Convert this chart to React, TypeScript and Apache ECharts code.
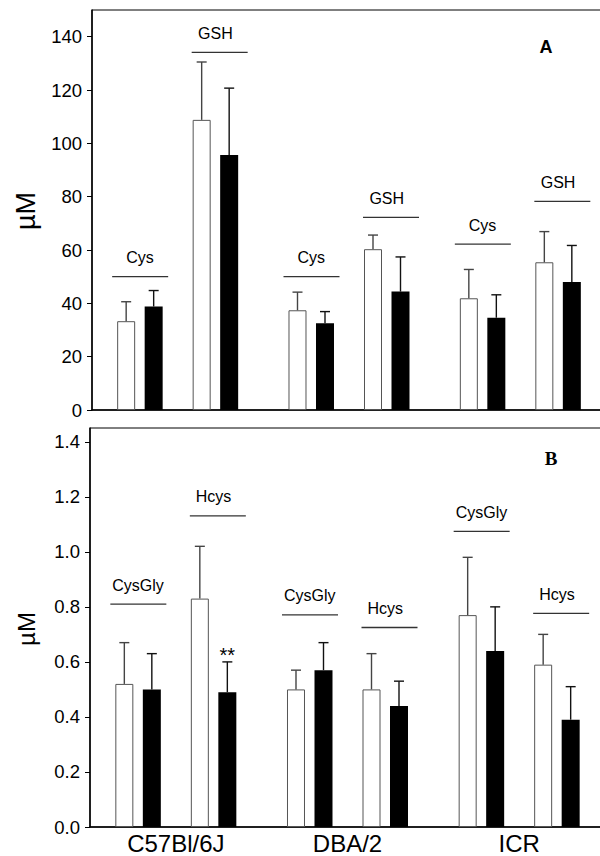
import React, { useEffect, useRef } from 'react';
import * as echarts from 'echarts';

// ---------- data ----------
const strains = ['C57Bl/6J', 'DBA/2', 'ICR'];

// Panel A (µM)
const topTicks = [0, 20, 40, 60, 80, 100, 120, 140];
const cysOpen = [33.3, 37.4, 41.9];
const cysOpenSD = [7.3, 6.8, 10.8];
const cysFilled = [38.8, 32.5, 34.6];
const cysFilledSD = [6.0, 4.4, 8.6];
const gshOpen = [108.8, 60.3, 55.4];
const gshOpenSD = [21.7, 5.3, 11.5];
const gshFilled = [95.6, 44.4, 48.0];
const gshFilledSD = [25.1, 13.0, 13.7];
const cysLineLevel = [50, 50, 62.2];
const gshLineLevel = [134.1, 72.2, 78.2];

// Panel B (µM)
const bottomTicks = [0, 0.2, 0.4, 0.6, 0.8, 1.0, 1.2, 1.4];
const cysGlyOpen = [0.52, 0.5, 0.77];
const cysGlyOpenSD = [0.15, 0.07, 0.21];
const cysGlyFilled = [0.5, 0.57, 0.64];
const cysGlyFilledSD = [0.13, 0.1, 0.16];
const hcysOpen = [0.83, 0.5, 0.59];
const hcysOpenSD = [0.19, 0.13, 0.11];
const hcysFilled = [0.49, 0.44, 0.39];
const hcysFilledSD = [0.11, 0.09, 0.12];
const hcysFilledSig = ['**', '', ''];
const cysGlyLineLevel = [0.81, 0.771, 1.074];
const hcysLineLevel = [1.131, 0.725, 0.776];

// ---------- layout ----------
const FONT = 'Liberation Sans';
const SERIF = 'Liberation Serif';
const BAR_W = 18;
const PAIR_GAP = 9.5;
const SPACER_W = 13.42;
const GAP_P = PAIR_GAP / BAR_W;
const WIDTHS = [BAR_W, BAR_W, SPACER_W, BAR_W, BAR_W];
const CENTERS: number[] = (() => {
  let sum = 0;
  WIDTHS.forEach((w) => (sum += w * (1 + GAP_P)));
  sum -= WIDTHS[WIDTHS.length - 1] * GAP_P;
  let off = -sum / 2;
  const c: number[] = [];
  WIDTHS.forEach((w) => {
    c.push(off + w / 2);
    off += w * (1 + GAP_P);
  });
  return [c[0], c[1], c[3], c[4]];
})();
const LINE_CENTER = [-37.5, 42];
const LINE_HALF = 28;
const CAP_HALF = 5;

function barSeries(data: number[], filled: boolean, axis: number) {
  return {
    type: 'bar',
    xAxisIndex: axis,
    yAxisIndex: axis,
    data,
    barWidth: BAR_W,
    barGap: GAP_P * 100 + '%',
    itemStyle: filled
      ? { color: '#000', borderColor: '#000', borderWidth: 0 }
      : { color: '#fff', borderColor: '#555', borderWidth: 1 },
    silent: true,
  };
}

function spacerSeries(axis: number) {
  return {
    type: 'bar',
    xAxisIndex: axis,
    yAxisIndex: axis,
    data: strains.map(() => 0),
    barWidth: SPACER_W,
    barGap: GAP_P * 100 + '%',
    itemStyle: { color: 'rgba(0,0,0,0)' },
    silent: true,
  };
}

function errorSeries(
  groups: { mean: number[]; sd: number[]; sig?: string[] }[],
  axis: number
) {
  const data: number[][] = [];
  const sigs: string[] = [];
  groups.forEach((g, slot) => {
    g.mean.forEach((m, i) => {
      data.push([i, m, g.sd[i], slot]);
      sigs.push(g.sig ? g.sig[i] : '');
    });
  });
  return {
    type: 'custom',
    xAxisIndex: axis,
    yAxisIndex: axis,
    data,
    silent: true,
    z: 5,
    renderItem: (params: any, api: any) => {
      const i = api.value(0);
      const m = api.value(1);
      const sd = api.value(2);
      const slot = api.value(3);
      const cx = api.coord([i, 0])[0] + CENTERS[slot];
      const yM = api.coord([i, m])[1];
      const yT = api.coord([i, m + sd])[1];
      const stroke = slot % 2 === 0 ? '#444' : '#111';
      const children: any[] = [
        { type: 'line', shape: { x1: cx, y1: yM, x2: cx, y2: yT }, style: { stroke, lineWidth: 1.4 } },
        {
          type: 'line',
          shape: { x1: cx - CAP_HALF, y1: yT, x2: cx + CAP_HALF, y2: yT },
          style: { stroke, lineWidth: 1.4 },
        },
      ];
      const s = sigs[params.dataIndex];
      if (s) {
        children.push({
          type: 'text',
          x: cx,
          y: yT + 3,
          style: {
            text: s,
            fontSize: 20,
            fontFamily: FONT,
            fill: '#000',
            textAlign: 'center',
            textVerticalAlign: 'bottom',
          },
        });
      }
      return { type: 'group', children };
    },
  };
}

function bracketSeries(levels: number[][], names: string[], axis: number, fontSize: number) {
  const data: number[][] = [];
  const labels: string[] = [];
  levels.forEach((lv, side) => {
    lv.forEach((v, i) => {
      data.push([i, v, side]);
      labels.push(names[side]);
    });
  });
  return {
    type: 'custom',
    xAxisIndex: axis,
    yAxisIndex: axis,
    data,
    silent: true,
    z: 5,
    renderItem: (params: any, api: any) => {
      const i = api.value(0);
      const v = api.value(1);
      const side = api.value(2);
      const base = api.coord([i, v]);
      const lc = base[0] + LINE_CENTER[side];
      const pairC = base[0] + (CENTERS[side * 2] + CENTERS[side * 2 + 1]) / 2;
      return {
        type: 'group',
        children: [
          {
            type: 'line',
            shape: { x1: lc - LINE_HALF, y1: base[1], x2: lc + LINE_HALF, y2: base[1] },
            style: { stroke: '#333', lineWidth: 1.3 },
          },
          {
            type: 'text',
            x: pairC,
            y: base[1] - 19,
            style: {
              text: labels[params.dataIndex],
              fontSize,
              fontFamily: FONT,
              fill: '#000',
              textAlign: 'center',
              textVerticalAlign: 'middle',
            },
          },
        ],
      };
    },
  };
}

export default function App() {
  const ref = useRef<HTMLDivElement>(null);

  useEffect(() => {
    if (!ref.current) return;
    const chart = echarts.init(ref.current, null, { renderer: 'svg' });

    const axisLine = { show: true, lineStyle: { color: '#000', width: 1.5 } };

    const option: any = {
      animation: false,
      backgroundColor: '#fff',
      grid: [
        {
          left: 92,
          top: 10,
          width: 514,
          height: 400,
          show: true,
          borderColor: '#000',
          borderWidth: 1,
          backgroundColor: 'transparent',
          outerBoundsMode: 'none',
          containLabel: false,
        },
        {
          left: 90,
          top: 428,
          width: 515,
          height: 399,
          show: true,
          borderColor: '#000',
          borderWidth: 1,
          backgroundColor: 'transparent',
          outerBoundsMode: 'none',
          containLabel: false,
        },
      ],
      xAxis: [
        {
          type: 'category',
          gridIndex: 0,
          data: strains,
          axisLine,
          axisTick: { show: false },
          axisLabel: { show: false },
          splitLine: { show: false },
        },
        {
          type: 'category',
          gridIndex: 1,
          data: strains,
          axisLine,
          axisTick: { show: false },
          axisLabel: { show: true, fontSize: 24, fontFamily: FONT, color: '#000', margin: 4 },
          splitLine: { show: false },
        },
      ],
      yAxis: [
        {
          type: 'value',
          gridIndex: 0,
          min: 0,
          max: 150,
          axisLine,
          axisTick: {
            show: true,
            length: 5,
            lineStyle: { color: '#000', width: 1 },
            customValues: topTicks,
          },
          axisLabel: {
            fontSize: 18.5,
            fontFamily: FONT,
            color: '#000',
            margin: 10,
            customValues: topTicks,
          },
          splitLine: { show: false },
        },
        {
          type: 'value',
          gridIndex: 1,
          min: 0,
          max: 1.45,
          axisLine,
          axisTick: {
            show: true,
            length: 5,
            lineStyle: { color: '#000', width: 1 },
            customValues: bottomTicks,
          },
          axisLabel: {
            fontSize: 18.5,
            fontFamily: FONT,
            color: '#000',
            margin: 10,
            customValues: bottomTicks,
            formatter: (v: number) => v.toFixed(1),
          },
          splitLine: { show: false },
        },
      ],
      series: [
        barSeries(cysOpen, false, 0),
        barSeries(cysFilled, true, 0),
        spacerSeries(0),
        barSeries(gshOpen, false, 0),
        barSeries(gshFilled, true, 0),
        errorSeries(
          [
            { mean: cysOpen, sd: cysOpenSD },
            { mean: cysFilled, sd: cysFilledSD },
            { mean: gshOpen, sd: gshOpenSD },
            { mean: gshFilled, sd: gshFilledSD },
          ],
          0
        ),
        bracketSeries([cysLineLevel, gshLineLevel], ['Cys', 'GSH'], 0, 16),

        barSeries(cysGlyOpen, false, 1),
        barSeries(cysGlyFilled, true, 1),
        spacerSeries(1),
        barSeries(hcysOpen, false, 1),
        barSeries(hcysFilled, true, 1),
        errorSeries(
          [
            { mean: cysGlyOpen, sd: cysGlyOpenSD },
            { mean: cysGlyFilled, sd: cysGlyFilledSD },
            { mean: hcysOpen, sd: hcysOpenSD },
            { mean: hcysFilled, sd: hcysFilledSD, sig: hcysFilledSig },
          ],
          1
        ),
        bracketSeries([cysGlyLineLevel, hcysLineLevel], ['CysGly', 'Hcys'], 1, 16),
      ],
      graphic: [
        {
          type: 'text',
          x: 25.5,
          y: 211,
          rotation: Math.PI / 2,
          style: {
            text: 'µM',
            fontSize: 27,
            fontFamily: FONT,
            fill: '#000',
            textAlign: 'center',
            textVerticalAlign: 'middle',
          },
        },
        {
          type: 'text',
          x: 26,
          y: 629,
          rotation: Math.PI / 2,
          style: {
            text: 'µM',
            fontSize: 24,
            fontFamily: FONT,
            fill: '#000',
            textAlign: 'center',
            textVerticalAlign: 'middle',
          },
        },
        {
          type: 'text',
          x: 546,
          y: 47,
          style: {
            text: 'A',
            fontSize: 18,
            fontWeight: 'bold',
            fontFamily: FONT,
            fill: '#000',
            textAlign: 'center',
            textVerticalAlign: 'middle',
          },
        },
        {
          type: 'text',
          x: 551,
          y: 458,
          style: {
            text: 'B',
            fontSize: 19,
            fontWeight: 'bold',
            fontFamily: SERIF,
            fill: '#000',
            textAlign: 'center',
            textVerticalAlign: 'middle',
          },
        },
      ],
    };

    chart.setOption(option);
    return () => chart.dispose();
  }, []);

  return (
    <div
      ref={ref}
      style={{ position: 'absolute', left: 0, top: 0, width: 600, height: 856, background: '#fff' }}
    />
  );
}
